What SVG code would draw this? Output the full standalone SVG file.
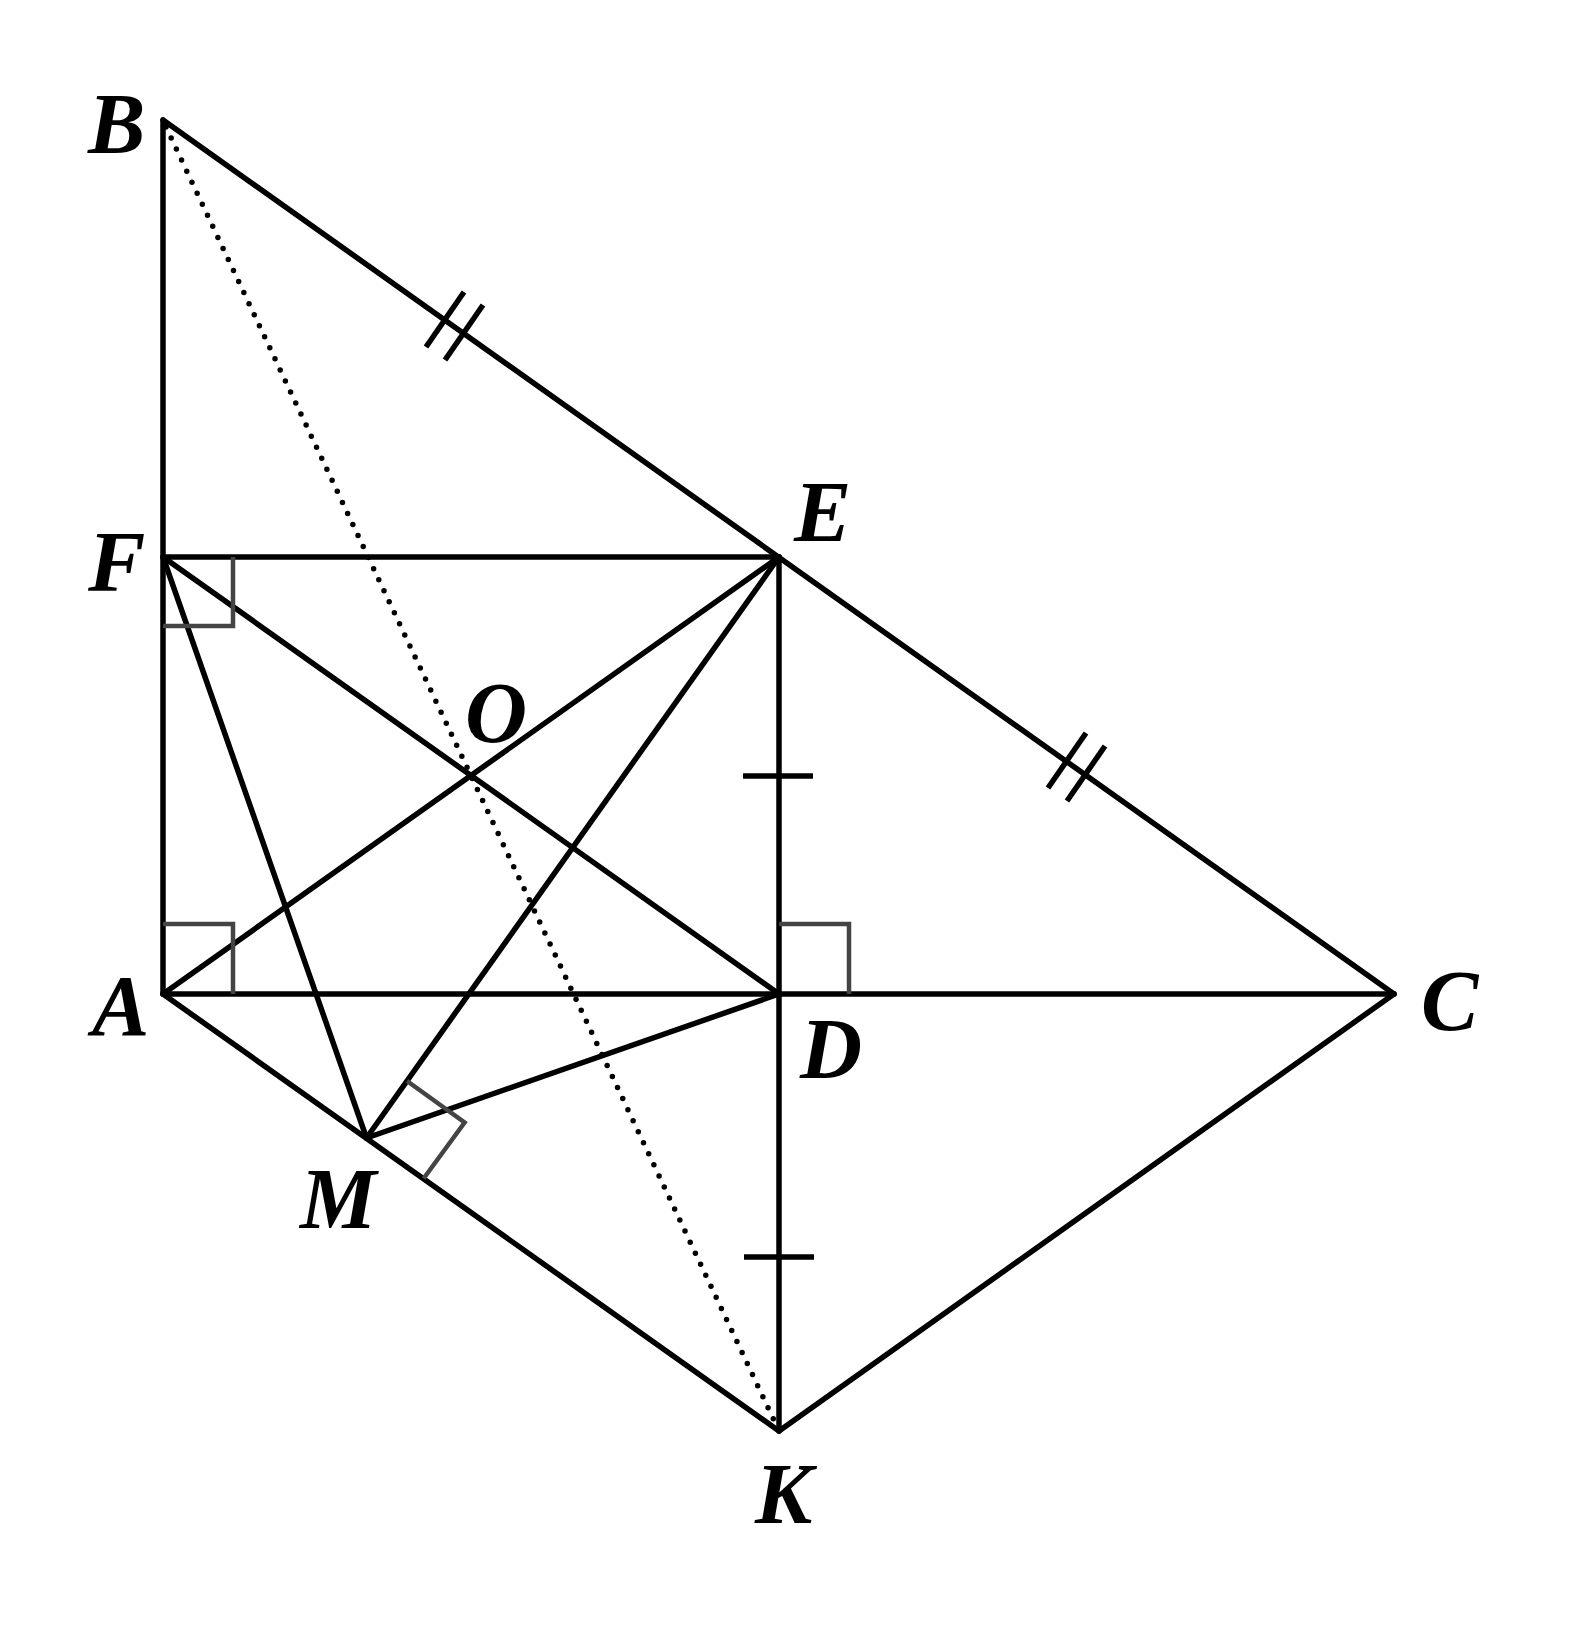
<svg xmlns="http://www.w3.org/2000/svg" width="1570" height="1626" viewBox="0 0 1570 1626">
<style>
.ln{stroke:#000;stroke-width:5.5;fill:none;stroke-linecap:round}
.rt{stroke:#444;stroke-width:4.5;fill:none}
.dot{stroke:#000;stroke-width:5.5;fill:none;stroke-linecap:round;stroke-dasharray:0 12.2}
.tk{stroke:#000;stroke-width:5.5;fill:none}
.lb{font-family:"Liberation Serif","Times New Roman",serif;font-weight:bold;font-style:italic;font-size:86px;fill:#000}
</style>
<rect width="1570" height="1626" fill="#fff"/>
<g id="connectors">
<line class="ln" x1="163" y1="120" x2="163" y2="994"/>
<line class="ln" x1="163" y1="120" x2="1394" y2="994"/>
<line class="ln" x1="163" y1="557" x2="779" y2="557"/>
<line class="ln" x1="779" y1="557" x2="779" y2="1431"/>
<line class="ln" x1="163" y1="994" x2="1394" y2="994"/>
<line class="ln" x1="163" y1="994" x2="779" y2="1431"/>
<line class="ln" x1="779" y1="1431" x2="1394" y2="994"/>
<line class="ln" x1="163" y1="557" x2="779" y2="994"/>
<line class="ln" x1="163" y1="994" x2="779" y2="557"/>
<line class="ln" x1="163" y1="557" x2="366.5" y2="1138"/>
<line class="ln" x1="779" y1="557" x2="366.5" y2="1138"/>
<line class="ln" x1="366.5" y1="1138" x2="779" y2="994"/>
<line class="dot" x1="166" y1="127" x2="779" y2="1431"/>
</g>
<g id="marks">
<polyline class="rt" points="163,626 233,626 233,557"/>
<polyline class="rt" points="163,924 233,924 233,994"/>
<polyline class="rt" points="779,924 849,924 849,994"/>
<polyline class="rt" points="407,1081 464.6,1122.5 423.6,1178.5"/>
<line class="tk" x1="743" y1="776" x2="813" y2="776"/>
<line class="tk" x1="744" y1="1257" x2="814" y2="1257"/>
<line class="tk" x1="464" y1="292" x2="426" y2="347"/>
<line class="tk" x1="483" y1="305" x2="445" y2="360"/>
<line class="tk" x1="1086" y1="733" x2="1048" y2="788"/>
<line class="tk" x1="1105" y1="746" x2="1067" y2="801"/>
</g>
<g id="B"><text class="lb" x="88" y="153">B</text></g>
<g id="F"><text class="lb" x="88" y="591">F</text></g>
<g id="A"><text class="lb" x="92" y="1035">A</text></g>
<g id="E"><text class="lb" x="794" y="541">E</text></g>
<g id="D"><text class="lb" x="800" y="1078">D</text></g>
<g id="C"><text class="lb" x="1421" y="1030">C</text></g>
<g id="M"><text class="lb" x="300" y="1228">M</text></g>
<g id="K"><text class="lb" x="755" y="1523">K</text></g>
<g id="O"><text class="lb" x="465" y="742">O</text></g>
</svg>
